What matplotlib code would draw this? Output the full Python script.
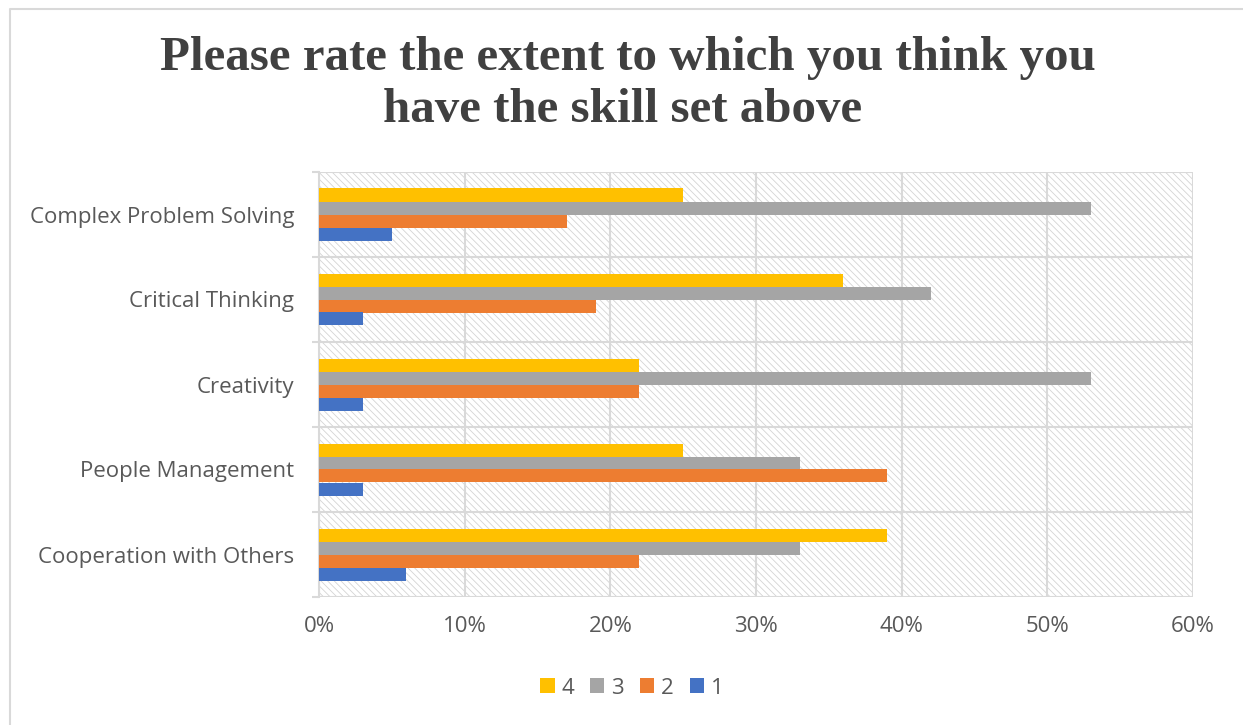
import numpy as np
import matplotlib.pyplot as plt
from matplotlib.lines import Line2D
from matplotlib.patches import Rectangle
from matplotlib.ticker import PercentFormatter

# Survey responses, share of respondents per rating (%)
skills = ['Complex Problem Solving', 'Critical Thinking', 'Creativity',
          'People Management', 'Cooperation with Others']
rating_4 = [25, 36, 22, 25, 39]
rating_3 = [53, 42, 53, 33, 33]
rating_2 = [17, 19, 22, 39, 22]
rating_1 = [5, 3, 3, 3, 6]

series = [('4', rating_4, '#FFC000'),
          ('3', rating_3, '#A5A5A5'),
          ('2', rating_2, '#ED7D31'),
          ('1', rating_1, '#4472C4')]

text_color = '#595959'
grid_color = '#D9D9D9'
plt.rcParams['hatch.linewidth'] = 0.6

fig = plt.figure(figsize=(12.43, 7.25), dpi=100)
ax = fig.add_axes([319 / 1243, 1 - 597 / 725, (1193 - 319) / 1243, (597 - 172) / 725])

# chart frame (left and top edges only)
fx, fy = 10 / 1243, 1 - 9 / 725
fig.lines.append(Line2D([fx, fx, 1.0], [0.0, fy, fy], transform=fig.transFigure,
                        color='#D9D9D9', linewidth=1.5))

# hatched plot area
ax.set_facecolor('white')
ax.add_patch(Rectangle((0, 0), 1, 1, transform=ax.transAxes, facecolor='white',
                       edgecolor='#D4D4D4', hatch='\\\\\\\\\\', linewidth=0, zorder=0))

n = len(skills)
y = np.arange(n)[::-1]  # first skill at the top
bar_h = 13 / 85
for i, (label, vals, color) in enumerate(series):
    offset = (1.5 - i) * bar_h
    ax.barh(y + offset, vals, height=bar_h, color=color, label=label, zorder=3)

ax.set_xlim(0, 60)
ax.set_ylim(-0.5, n - 0.5)
ax.set_xticks(np.arange(0, 61, 10))
ax.xaxis.set_major_formatter(PercentFormatter(decimals=0))
ax.set_yticks(y)
ax.set_yticklabels(skills)
ax.set_yticks(np.arange(-0.5, n, 1), minor=True)

ax.grid(axis='x', color=grid_color, linewidth=1.5, zorder=1)
ax.grid(axis='y', which='minor', color=grid_color, linewidth=1.5, zorder=1)
ax.set_axisbelow(True)

for side in ['top', 'right', 'bottom']:
    ax.spines[side].set_visible(False)
ax.spines['left'].set_color(grid_color)
ax.spines['left'].set_linewidth(1.5)

ax.tick_params(axis='x', length=0, labelsize=16, labelcolor=text_color, pad=14)
ax.tick_params(axis='y', which='major', length=0, labelsize=16, labelcolor=text_color, pad=18)
ax.tick_params(axis='y', which='minor', length=5, width=1.5, color=grid_color)
for lbl in ax.get_xticklabels() + ax.get_yticklabels():
    lbl.set_family('Open Sans')

title_lines = ['Please rate the extent to which you think you', 'have the skill set above']
for line, xpix, ypix in zip(title_lines, [628, 623], [58, 110]):
    fig.text(xpix / 1243, 1 - ypix / 725, line, ha='center', va='center', fontsize=35.3,
             fontweight='bold', color='#404040', family='Liberation Serif')

handles, labels = ax.get_legend_handles_labels()
fig.legend(handles, labels, loc='center', bbox_to_anchor=(632 / 1243, 1 - 688 / 725), ncol=4,
           frameon=False, handlelength=0.65, handleheight=0.65, handletextpad=0.32,
           columnspacing=0.7, prop={'family': 'Open Sans', 'size': 16}, labelcolor=text_color)

fig.savefig('out.png', dpi=100)
